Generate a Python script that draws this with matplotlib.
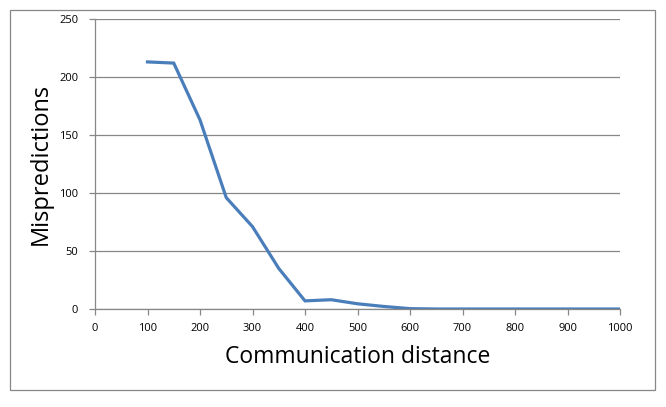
import matplotlib
matplotlib.use("Agg")
import matplotlib.pyplot as plt
from matplotlib.patches import Rectangle

distance = [100, 150, 200, 250, 300, 350, 400, 450, 500, 550, 600, 650, 700, 750, 800, 850, 900, 950, 1000]
mispredictions = [213, 212, 163, 96, 71, 35, 7, 8, 4.5, 2.2, 0.3, 0, 0, 0, 0, 0, 0, 0, 0]
x_ticks = list(range(0, 1001, 100))
y_ticks = [0, 50, 100, 150, 200, 250]

W, H = 666, 407
fig = plt.figure(figsize=(W / 100, H / 100), dpi=100)
fig.patch.set_facecolor("white")

# outer chart border
fig.patches.append(Rectangle((10 / W, 1 - 390 / H), 645 / W, 380 / H, transform=fig.transFigure,
                             fill=False, edgecolor="#878787", linewidth=0.9))

ax = fig.add_axes([95 / W, 1 - 309 / H, 525 / W, 290 / H])
ax.plot(distance, mispredictions, color="#4A7EBB", linewidth=2.3, solid_joinstyle="miter")
ax.set_xlim(0, 1000)
ax.set_ylim(0, 250)
ax.set_xticks(x_ticks)
ax.set_yticks(y_ticks)
ax.grid(axis="y", color="#878787", linewidth=0.9)
ax.set_axisbelow(True)
for s in ["top", "right"]:
    ax.spines[s].set_visible(False)
for s in ["left", "bottom"]:
    ax.spines[s].set_color("#878787")
    ax.spines[s].set_linewidth(0.9)
ax.tick_params(axis="both", direction="out", length=4, width=0.9, color="#878787",
               labelsize=8, labelcolor="black")
ax.tick_params(axis="x", pad=6)
ax.tick_params(axis="y", pad=8)
for lab in ax.get_xticklabels() + ax.get_yticklabels():
    lab.set_family("Open Sans")

ax.set_xlabel("Communication distance", fontsize=16.5, family="Open Sans", labelpad=8)
ax.set_ylabel("Mispredictions", fontsize=17, family="Open Sans", labelpad=5)

fig.savefig("out.png", dpi=100)
